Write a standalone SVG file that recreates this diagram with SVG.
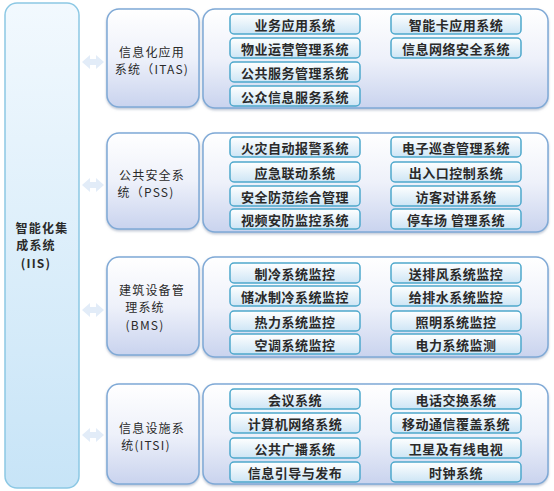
<svg xmlns="http://www.w3.org/2000/svg" width="554" height="491" viewBox="0 0 554 491">
<defs>
<linearGradient id="gLeft" x1="0" y1="0" x2="0" y2="1"><stop offset="0" stop-color="#f2f9fe"/><stop offset="1" stop-color="#c7e4f7"/></linearGradient>
<linearGradient id="gMid" x1="0" y1="0" x2="0" y2="1"><stop offset="0" stop-color="#ffffff"/><stop offset="0.5" stop-color="#eef1fa"/><stop offset="1" stop-color="#c9d3ee"/></linearGradient>
<linearGradient id="gItem" x1="0" y1="0" x2="0" y2="1"><stop offset="0" stop-color="#ffffff"/><stop offset="1" stop-color="#cde5f5"/></linearGradient>
<filter id="sh" x="-10%" y="-10%" width="120%" height="130%"><feDropShadow dx="0" dy="1.5" stdDeviation="1.2" flood-color="#7a8aa8" flood-opacity="0.5"/></filter>
</defs>
<style>
.left{fill:url(#gLeft);stroke:#8cc8e4;stroke-width:1.5}
.mid{fill:url(#gMid);stroke:#7fa9d6;stroke-width:1.5}
.item{fill:url(#gItem);stroke:#4ea8cc;stroke-width:1.5}
.arr{fill:#e2ecf8}
text{font-family:"Noto Sans CJK SC","Noto Sans",sans-serif;fill:#2a2a2a;text-anchor:middle;dominant-baseline:central}
.t{font-size:12px;letter-spacing:1.2px}
.b{font-weight:bold}
.i{font-size:13px;font-weight:bold;letter-spacing:0.5px}
</style>
<rect width="554" height="491" fill="#ffffff"/>
<g id="iis">
<rect class="left" x="5" y="3" width="74" height="485" rx="12"/>
<text class="t b" x="42" y="227">智能化集</text>
<text class="t b" x="36" y="244.5">成系统</text>
<text class="t b" x="36" y="262">(IIS)</text>
</g>
<g id="connectors">
<polygon class="arr" points="82,62 90,55 90,59 96,59 96,55 104,62 96,69 96,65 90,65 90,69"/>
<polygon class="arr" points="82,185 90,178 90,182 96,182 96,178 104,185 96,192 96,188 90,188 90,192"/>
<polygon class="arr" points="82,310 90,303 90,307 96,307 96,303 104,310 96,317 96,313 90,313 90,317"/>
<polygon class="arr" points="82,435 90,428 90,432 96,432 96,428 104,435 96,442 96,438 90,438 90,442"/>
</g>
<g id="itas">
<rect class="mid" x="107" y="9" width="92" height="98" rx="12" filter="url(#sh)"/>
<text class="t" x="152" y="51">信息化应用</text>
<text class="t" x="152" y="68.5">系统（ITAS)</text>
</g>
<g id="itas-items">
<rect class="mid" x="203" y="9" width="345" height="99" rx="12" filter="url(#sh)"/>
<rect class="item" x="230" y="14" width="130" height="20" rx="4"/><text class="i" x="295" y="24">业务应用系统</text>
<rect class="item" x="230" y="38" width="130" height="20" rx="4"/><text class="i" x="295" y="48">物业运营管理系统</text>
<rect class="item" x="230" y="62" width="130" height="20" rx="4"/><text class="i" x="295" y="72">公共服务管理系统</text>
<rect class="item" x="230" y="86" width="130" height="20" rx="4"/><text class="i" x="295" y="96">公众信息服务系统</text>
<rect class="item" x="391" y="14" width="130" height="20" rx="4"/><text class="i" x="456" y="24">智能卡应用系统</text>
<rect class="item" x="391" y="38" width="130" height="20" rx="4"/><text class="i" x="456" y="48">信息网络安全系统</text>
</g>
<g id="pss">
<rect class="mid" x="107" y="133" width="92" height="96" rx="12" filter="url(#sh)"/>
<text class="t" x="152" y="174">公共安全系</text>
<text class="t" x="146" y="191.5">统（PSS)</text>
</g>
<g id="pss-items">
<rect class="mid" x="203" y="133" width="345" height="99" rx="12" filter="url(#sh)"/>
<rect class="item" x="230" y="137" width="130" height="20" rx="4"/><text class="i" x="295" y="147">火灾自动报警系统</text>
<rect class="item" x="230" y="162" width="130" height="20" rx="4"/><text class="i" x="295" y="172">应急联动系统</text>
<rect class="item" x="230" y="186" width="130" height="20" rx="4"/><text class="i" x="295" y="196">安全防范综合管理</text>
<rect class="item" x="230" y="209" width="130" height="20" rx="4"/><text class="i" x="295" y="219">视频安防监控系统</text>
<rect class="item" x="391" y="137" width="130" height="20" rx="4"/><text class="i" x="456" y="147">电子巡查管理系统</text>
<rect class="item" x="391" y="162" width="130" height="20" rx="4"/><text class="i" x="456" y="172">出入口控制系统</text>
<rect class="item" x="391" y="186" width="130" height="20" rx="4"/><text class="i" x="456" y="196">访客对讲系统</text>
<rect class="item" x="391" y="209" width="130" height="20" rx="4"/><text class="i" x="456" y="219">停车场 管理系统</text>
</g>
<g id="bms">
<rect class="mid" x="107" y="257" width="92" height="98" rx="12" filter="url(#sh)"/>
<text class="t" x="152" y="289">建筑设备管</text>
<text class="t" x="145" y="306.5">理系统</text>
<text class="t" x="145" y="324">(BMS)</text>
</g>
<g id="bms-items">
<rect class="mid" x="203" y="257" width="345" height="100" rx="12" filter="url(#sh)"/>
<rect class="item" x="230" y="263" width="130" height="20" rx="4"/><text class="i" x="295" y="273">制冷系统监控</text>
<rect class="item" x="230" y="286" width="130" height="20" rx="4"/><text class="i" x="295" y="296">储冰制冷系统监控</text>
<rect class="item" x="230" y="311" width="130" height="20" rx="4"/><text class="i" x="295" y="321">热力系统监控</text>
<rect class="item" x="230" y="334" width="130" height="20" rx="4"/><text class="i" x="295" y="344">空调系统监控</text>
<rect class="item" x="391" y="263" width="130" height="20" rx="4"/><text class="i" x="456" y="273">送排风系统监控</text>
<rect class="item" x="391" y="286" width="130" height="20" rx="4"/><text class="i" x="456" y="296">给排水系统监控</text>
<rect class="item" x="391" y="311" width="130" height="20" rx="4"/><text class="i" x="456" y="321">照明系统监控</text>
<rect class="item" x="391" y="334" width="130" height="20" rx="4"/><text class="i" x="456" y="344">电力系统监测</text>
</g>
<g id="itsi">
<rect class="mid" x="107" y="384" width="92" height="100" rx="12" filter="url(#sh)"/>
<text class="t" x="152" y="427">信息设施系</text>
<text class="t" x="146" y="444.5">统(ITSI)</text>
</g>
<g id="itsi-items">
<rect class="mid" x="203" y="384" width="345" height="100" rx="12" filter="url(#sh)"/>
<rect class="item" x="230" y="389" width="130" height="20" rx="4"/><text class="i" x="295" y="399">会议系统</text>
<rect class="item" x="230" y="413" width="130" height="20" rx="4"/><text class="i" x="295" y="423">计算机网络系统</text>
<rect class="item" x="230" y="438" width="130" height="20" rx="4"/><text class="i" x="295" y="448">公共广播系统</text>
<rect class="item" x="230" y="462" width="130" height="20" rx="4"/><text class="i" x="295" y="472">信息引导与发布</text>
<rect class="item" x="391" y="389" width="130" height="20" rx="4"/><text class="i" x="456" y="399">电话交换系统</text>
<rect class="item" x="391" y="413" width="130" height="20" rx="4"/><text class="i" x="456" y="423">移动通信覆盖系统</text>
<rect class="item" x="391" y="438" width="130" height="20" rx="4"/><text class="i" x="456" y="448">卫星及有线电视</text>
<rect class="item" x="391" y="462" width="130" height="20" rx="4"/><text class="i" x="456" y="472">时钟系统</text>
</g>
</svg>
